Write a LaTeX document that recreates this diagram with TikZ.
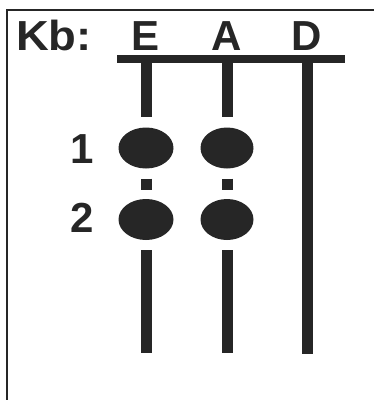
\documentclass[tikz,border=0pt]{standalone}
\usepackage{fontspec}
\setmainfont{Liberation Sans}
\usetikzlibrary{shapes.geometric}
\definecolor{ink}{HTML}{262626}

\begin{document}
\begin{tikzpicture}[x=1pt, y=-1pt, string/.style = {draw=ink, line width=11pt}, fret/.style = {draw=ink, line width=8pt}, dot/.style = {ellipse, fill=ink, minimum width=55pt, minimum height=41pt, inner sep=0pt}, lbl/.style = {text=ink, font=\fontsize{42}{42}\selectfont\bfseries, inner sep=0pt, anchor=base}]

    \useasboundingbox (0,0) rectangle (374,400);

    % frame
    \draw[ink, line width=2pt] (7,400) -- (7,10) -- (374,10);

    % labels
    \node[lbl, anchor=base west, xscale=1.08] (kb) at (16,50) {Kb:};
    \node[lbl] (le) at (146,50) {E};
    \node[lbl] (la) at (227,50) {A};
    \node[lbl] (ld) at (307,50) {D};
    \node[lbl] (n1) at (82,163) {1};
    \node[lbl] (n2) at (82,232) {2};

    % nut
    \coordinate (nl) at (117,59);
    \coordinate (nr) at (345,59);
    \draw[fret] (nl) -- (nr);

    % string tops and ends
    \coordinate (et) at (146,59);
    \coordinate (at) at (227,59);
    \coordinate (dt) at (307,59);
    \coordinate (eb) at (146,353);
    \coordinate (ab) at (227,353);
    \coordinate (db) at (307,354);

    % dots
    \node[dot] (e1) at (146,148) {};
    \node[dot] (e2) at (146,219.5) {};
    \node[dot, minimum width=53pt] (a1) at (227,148) {};
    \node[dot, minimum width=53pt] (a2) at (227,219.5) {};

    % strings
    \draw[string, shorten >=10pt] (et) -- (e1);
    \draw[string, shorten <=10pt, shorten >=9pt] (e1) -- (e2);
    \draw[string, shorten <=10pt] (e2) -- (eb);
    \draw[string, shorten >=10pt] (at) -- (a1);
    \draw[string, shorten <=10pt, shorten >=9pt] (a1) -- (a2);
    \draw[string, shorten <=10pt] (a2) -- (ab);
    \draw[string] (dt) -- (db);

\end{tikzpicture}
\end{document}
